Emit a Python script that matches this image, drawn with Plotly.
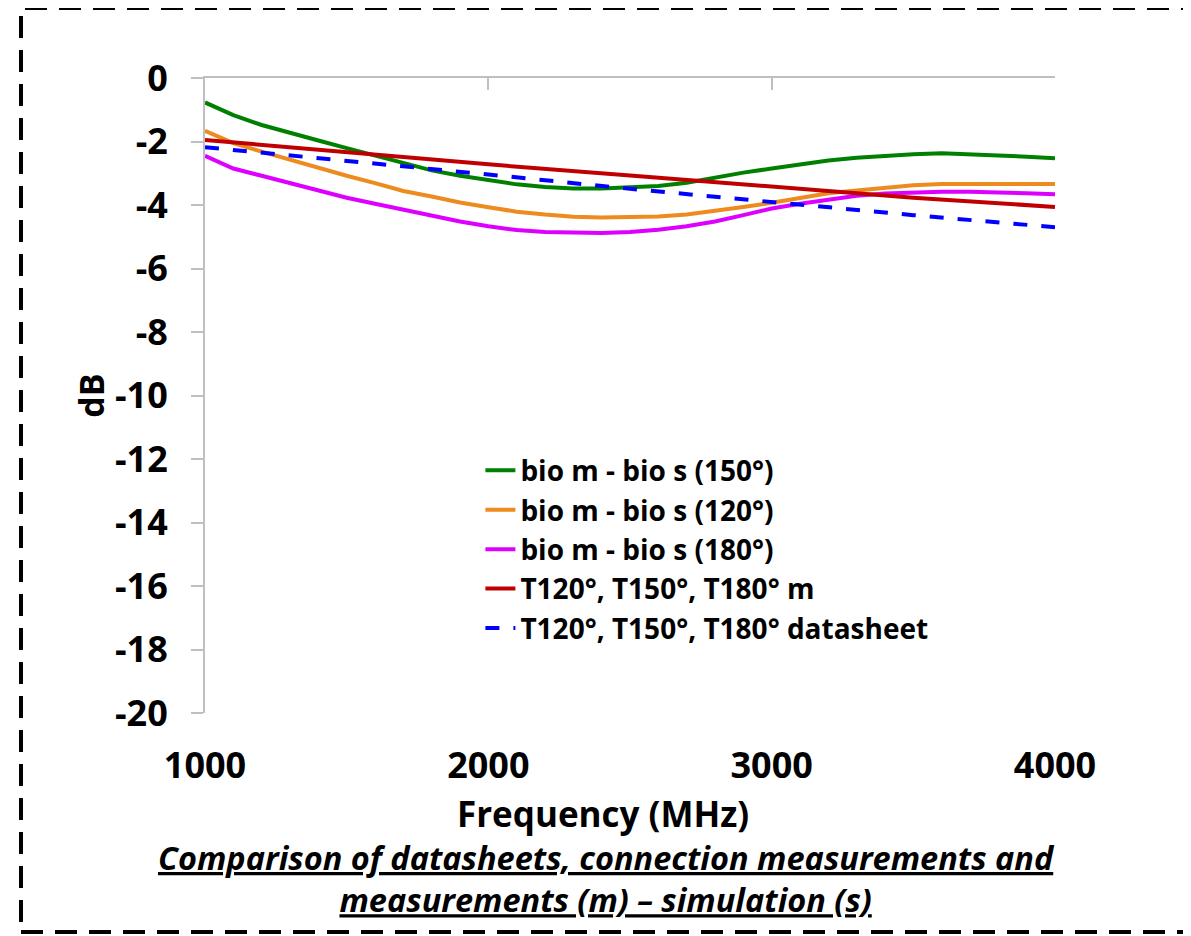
import plotly.graph_objects as go

# ---------------- data ----------------
freq_meas = [1000, 1100, 1200, 1300, 1400, 1500, 1600, 1700, 1800, 1900,
             2000, 2100, 2200, 2300, 2400, 2500, 2600, 2700, 2800, 2900,
             3000, 3100, 3200, 3300, 3400, 3500, 3600, 3700, 3800, 3900, 4000]

bio_150 = [-0.77, -1.17, -1.48, -1.74, -1.97, -2.21, -2.45, -2.70, -2.91, -3.08,
           -3.22, -3.35, -3.43, -3.48, -3.48, -3.44, -3.40, -3.30, -3.13, -2.98,
           -2.85, -2.72, -2.60, -2.51, -2.44, -2.40, -2.37, -2.39, -2.44, -2.48, -2.53]

bio_120 = [-1.66, -2.05, -2.32, -2.58, -2.84, -3.08, -3.31, -3.56, -3.73, -3.92,
           -4.07, -4.21, -4.30, -4.37, -4.39, -4.37, -4.36, -4.30, -4.19, -4.06,
           -3.93, -3.78, -3.63, -3.54, -3.46, -3.38, -3.34, -3.34, -3.32, -3.33, -3.34]

bio_180 = [-2.45, -2.85, -3.08, -3.32, -3.56, -3.77, -3.96, -4.15, -4.34, -4.52,
           -4.67, -4.79, -4.85, -4.88, -4.88, -4.85, -4.78, -4.67, -4.52, -4.32,
           -4.11, -3.96, -3.82, -3.71, -3.64, -3.60, -3.58, -3.58, -3.59, -3.63, -3.66]

freq_ref = [1000, 1500, 2000, 2500, 3000, 3500, 4000]
t_meas = [-1.95, -2.34, -2.72, -3.07, -3.43, -3.77, -4.06]
t_datasheet = [-2.18, -2.60, -3.04, -3.49, -3.92, -4.32, -4.70]

series_names = ["bio m - bio s (150°)", "bio m - bio s (120°)", "bio m - bio s (180°)",
                "T120°, T150°, T180° m", "T120°, T150°, T180° datasheet"]

x_ticks = [1000, 2000, 3000, 4000]
y_ticks = [0, -2, -4, -6, -8, -10, -12, -14, -16, -18, -20]
y_ticklabels = ["0", "-2", "-4", "-6", "-8", "-10", "-12", "-14", "-16", "-18", "-20"]

x_title = "Frequency (MHz)"
y_title = "dB"
caption_lines = ["Comparison of datasheets, connection measurements and",
                 "measurements (m) – simulation (s)"]

# ---------------- figure ----------------
FONT = "Open Sans"
AXIS_GRAY = "#BFBFBF"
# the page body adds an 8 px offset, so the figure is drawn 8 px smaller
OFF = 8
PL, PT, PW, PH = 205, 78, 850, 635   # plot area in screenshot pixels


def px(x):
    return (x - PL) / PW


def py(y):
    return (PT + PH - y) / PH


fig = go.Figure()
fig.add_trace(go.Scatter(x=freq_meas, y=bio_150, mode="lines", name=series_names[0],
                         line=dict(color="#008000", width=4)))
fig.add_trace(go.Scatter(x=freq_meas, y=bio_120, mode="lines", name=series_names[1],
                         line=dict(color="#EE8B1E", width=4)))
fig.add_trace(go.Scatter(x=freq_meas, y=bio_180, mode="lines", name=series_names[2],
                         line=dict(color="#DD00FF", width=4)))
fig.add_trace(go.Scatter(x=freq_ref, y=t_meas, mode="lines", name=series_names[3],
                         line=dict(color="#C00000", width=4)))
fig.add_trace(go.Scatter(x=freq_ref, y=t_datasheet, mode="lines", name=series_names[4],
                         xaxis="x2",
                         line=dict(color="#0000FF", width=4, dash="14px,14px")))

tickfont = dict(family=FONT, size=36, color="black", weight="bold")

fig.update_layout(
    width=1191 - OFF, height=936 - OFF, autosize=False,
    margin=dict(l=PL - OFF, r=1191 - PL - PW, t=PT - OFF, b=936 - PT - PH),
    paper_bgcolor="white", plot_bgcolor="white",
    font=dict(family=FONT, color="black"),
    xaxis=dict(range=[1000, 4000], tickvals=x_ticks, showline=False, ticks="",
               showgrid=False, zeroline=False, tickfont=tickfont,
               ticklabelstandoff=28, automargin=False),
    xaxis2=dict(overlaying="x", matches="x", side="top", range=[1000, 4000],
                tickvals=x_ticks, showline=True, linecolor=AXIS_GRAY, linewidth=2,
                ticks="inside", ticklen=12, tickcolor=AXIS_GRAY, tickwidth=2,
                showticklabels=False, showgrid=False, zeroline=False, automargin=False),
    yaxis=dict(range=[-20, 0], tickvals=y_ticks, ticktext=y_ticklabels,
               showline=True, linecolor=AXIS_GRAY,
               linewidth=2, ticks="outside", ticklen=12, tickcolor=AXIS_GRAY,
               tickwidth=2, showgrid=False, zeroline=False, tickfont=tickfont,
               ticklabelstandoff=16, automargin=False,
               title=dict(text=y_title, font=dict(family=FONT, size=34, color="black",
                                                  weight="bold"), standoff=0)),
    legend=dict(x=0.324, y=0.421, xanchor="left", yanchor="top",
                bgcolor="rgba(0,0,0,0)", font=dict(family=FONT, size=28, color="black",
                                                    weight="bold"),
                tracegroupgap=0),
    showlegend=True,
)

# x-axis title (centred as in the reference, slightly left of the plot centre)
fig.add_annotation(text=x_title, xref="paper", yref="paper",
                   x=px(603), y=py(813),
                   xanchor="center", yanchor="middle", showarrow=False,
                   font=dict(family=FONT, size=35, color="black", weight="bold"))

# caption, two lines
caption = "<br>".join(f"<i><u>{line}</u></i>" for line in caption_lines)
fig.add_annotation(text=caption, xref="paper", yref="paper",
                   x=px(606), y=py(878),
                   xanchor="center", yanchor="middle", showarrow=False,
                   font=dict(family=FONT, size=32.5, color="black", weight="bold"))

# dashed border around the whole chart
fig.add_shape(type="rect", xref="paper", yref="paper",
              x0=px(21), x1=px(1187), y0=py(932), y1=py(8),
              line=dict(color="black", width=4, dash="22px,12px"),
              fillcolor="rgba(0,0,0,0)")

fig.write_html("out.html")
